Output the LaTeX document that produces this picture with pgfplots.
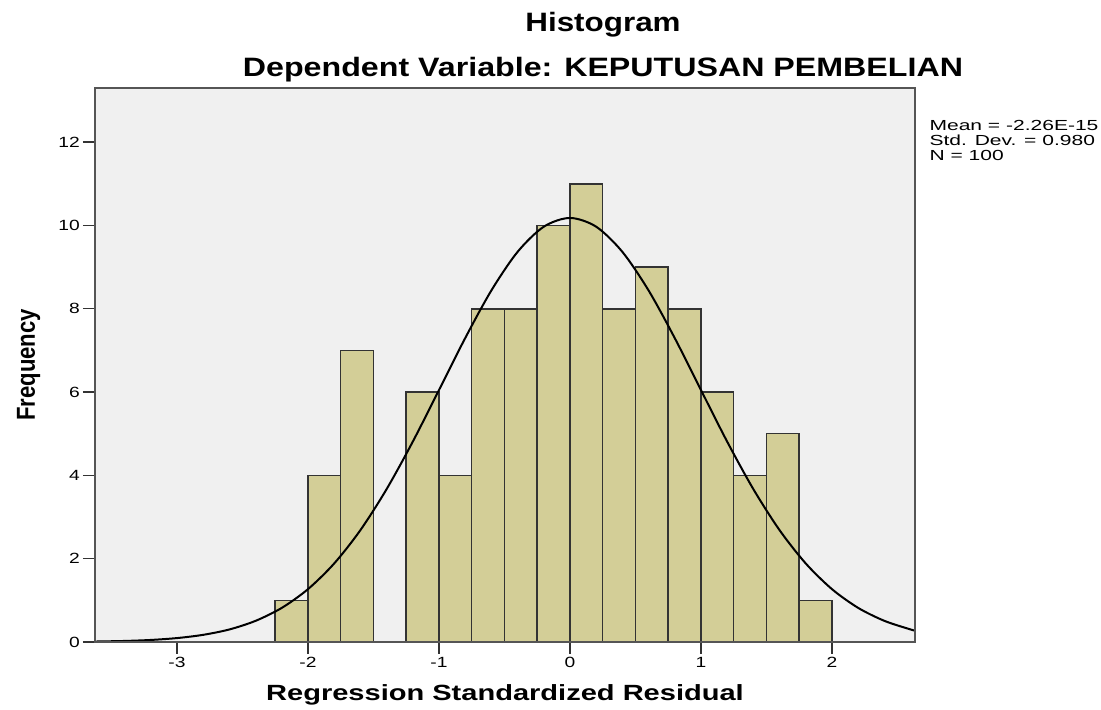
\documentclass[border=0pt]{standalone}
\usepackage{fontspec}
\setmainfont{Liberation Sans}
\usepackage{pgfplots}
\pgfplotsset{compat=1.18}
\usetikzlibrary{calc}
\definecolor{bgcol}{HTML}{F0F0F0}
\definecolor{barfill}{HTML}{D3CE97}
\definecolor{baredge}{HTML}{333333}
\definecolor{axcol}{HTML}{555555}
\begin{document}
\begin{tikzpicture}
\begin{axis}[
 name=ax,
 scale only axis,
 width=410pt, height=277pt,
 xmin=-3.626, xmax=2.634, ymin=0, ymax=13.3,
 xtick={-3,-2,-1,0,1,2}, ytick={0,2,4,6,8,10,12},
 xtick pos=bottom, ytick pos=left,
 tick align=outside,
 major tick length=6pt,
 minor tick num=0,
 axis on top,
 axis background/.style={fill=bgcol},
 axis line style={draw=axcol, line width=1.2pt},
 every tick/.style={draw=black!80, line width=0.7pt},
 /pgf/number format/assume math mode=true,
 tick label style={font=\fontsize{7.4}{8.5}\selectfont, text=black},
 xticklabel style={xscale=1.3, inner sep=1.5pt},
 yticklabel style={xscale=1.3, inner sep=1pt},
]
\addplot[ybar interval, fill=barfill, draw=baredge, line width=0.75pt] coordinates {
 (-2.25,1) (-2,4) (-1.75,7) (-1.5,0) (-1.25,6) (-1,4) (-0.75,8) (-0.5,8)
 (-0.25,10) (0,11) (0.25,8) (0.5,9) (0.75,8) (1,6) (1.25,4) (1.5,5) (1.75,1) (2,1)
};
\addplot[smooth, black, line width=1pt] coordinates {
 (-3.626,0.011) (-3.4,0.025) (-3.2,0.049) (-3.0,0.094) (-2.8,0.172) (-2.6,0.301)
 (-2.4,0.508) (-2.2,0.819) (-2.0,1.269) (-1.8,1.885) (-1.6,2.685) (-1.4,3.669)
 (-1.2,4.810) (-1.0,6.049) (-0.8,7.295) (-0.6,8.440) (-0.4,9.366) (-0.2,9.970)
 (0,10.18) (0.2,9.970) (0.4,9.366) (0.6,8.440) (0.8,7.295) (1.0,6.049)
 (1.2,4.810) (1.4,3.669) (1.6,2.685) (1.8,1.885) (2.0,1.269) (2.2,0.819)
 (2.4,0.508) (2.6,0.301) (2.634,0.275)
};
\end{axis}
\path (ax.north west) ++(254pt,28pt) node[anchor=base, inner sep=0, font=\bfseries\fontsize{13.3}{16}\selectfont, xscale=1.18] {Histogram};
\path (ax.north west) ++(254pt,5.5pt) node[anchor=base, inner sep=0, font=\bfseries\fontsize{13.3}{16}\selectfont, xscale=1.21] {Dependent Variable: KEPUTUSAN PEMBELIAN};
\path (ax.south west) ++(205pt,-21pt) node[anchor=north, inner sep=0, font=\bfseries\fontsize{11}{13}\selectfont, xscale=1.32] {Regression Standardized Residual};
\path (ax.south west) ++(-30pt,138.5pt) node[rotate=90, anchor=base, inner sep=0, font=\bfseries\fontsize{13}{15}\selectfont, xscale=0.85] {Frequency};
\path (ax.north east) ++(7pt,-16pt) node[anchor=north west, inner sep=0, align=left, font=\fontsize{7.3}{7.6}\selectfont, xscale=1.44] {Mean = -2.26E-15\\Std. Dev. = 0.980\\N = 100};
\path ($(ax.south west)+(-47.5pt,-34pt)$) rectangle ($(ax.north east)+(93pt,44pt)$);
\end{tikzpicture}
\end{document}
